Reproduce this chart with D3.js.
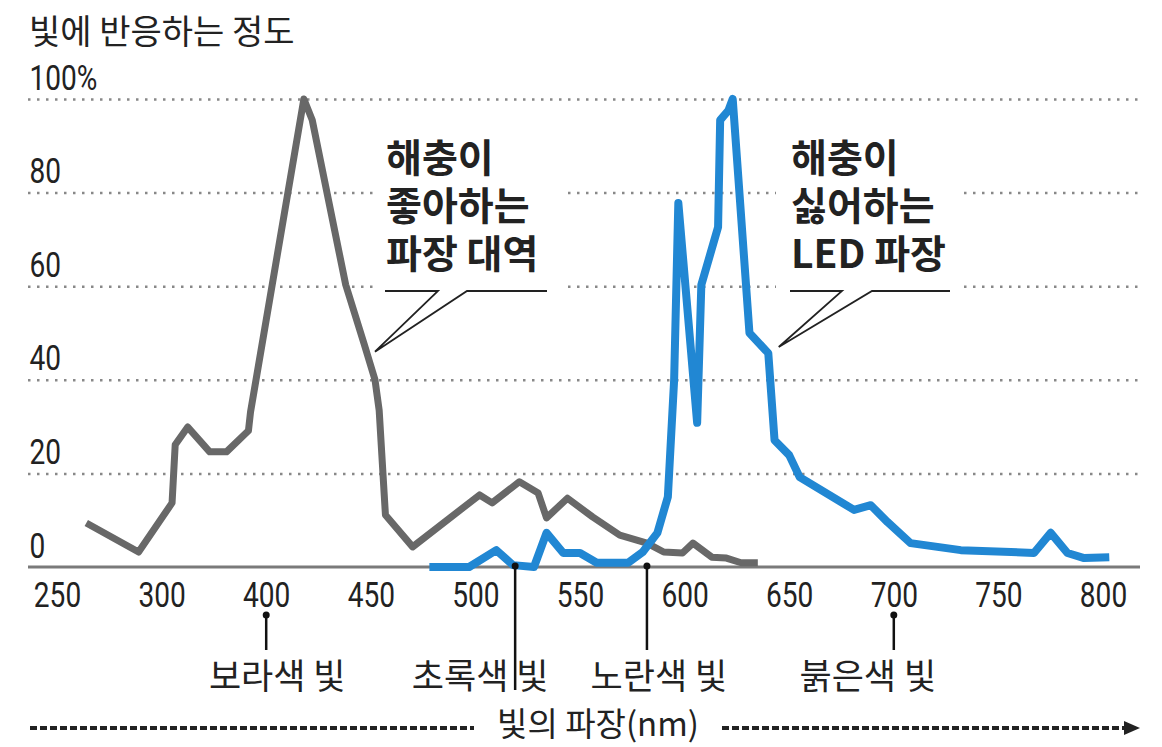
<!DOCTYPE html>
<html>
<head>
<meta charset="utf-8">
<script src="https://cdn.jsdelivr.net/npm/d3@7"></script>
<style>
  body { margin: 0; background: #fff; }
  .num { font-family: Roboto, "Liberation Sans", sans-serif; fill: #222; }
  .kr { font-family: "Noto Sans CJK KR", sans-serif; fill: #222; }
</style>
</head>
<body>
<svg id="chart"></svg>
<script>
// tick labels as printed on the chart (note the jump 300 -> 400)
const xTicks = [250, 300, 400, 450, 500, 550, 600, 650, 700, 750, 800];
const yTicks = [0, 20, 40, 60, 80, 100];

// response curve of insects (gray)
const attractNm  = [264, 289, 310, 313, 325, 346, 362, 383, 385, 418, 422, 438, 447, 452, 454, 457, 470, 502, 508, 521, 530, 534, 544, 556, 569, 582, 590, 599, 604, 613, 620, 627, 635];
const attractVal = [9.4, 3.2, 13.7, 26.1, 29.9, 24.6, 24.6, 29.1, 33.1, 100, 95.5, 60.3, 47.4, 40, 33.5, 11.1, 4.3, 15.4, 13.7, 18.2, 15.8, 10.5, 14.7, 10.7, 6.8, 5.1, 3.2, 3.0, 5.1, 2.1, 1.9, 0.9, 0.9];

// LED spectrum insects dislike (blue)
const ledNm  = [478, 497, 510, 518, 528, 534, 542, 550, 558, 573, 580, 587, 592, 595, 597, 606, 608, 616, 617, 621, 623, 631, 640, 643, 650, 655, 681, 689, 697, 708, 732, 767, 775, 783, 791, 803];
const ledVal = [0, 0, 3.6, 0.4, 0, 7.3, 3.0, 3.0, 0.9, 0.9, 3.2, 7.3, 15, 40, 77.8, 30.8, 60.3, 72.6, 95.5, 97.6, 100, 50, 45.7, 27.1, 23.9, 19.2, 12.2, 13.2, 9.6, 5.1, 3.6, 3.0, 7.3, 3.0, 1.9, 2.1];

// colour bands marked under the axis
const lightNames = ['보라색 빛', '초록색 빛', '노란색 빛', '붉은색 빛'];
const lightNm = [400, 519, 582, 700];

const titleText = '빛에 반응하는 정도';
const xTitle = '빛의 파장(nm)';
const noteLeft = ['해충이', '좋아하는', '파장 대역'];
const noteRight = ['해충이', '싫어하는', 'LED 파장'];

const W = 1162, H = 747;
const left = 28, right = 1140;
const step = 104.6, x0 = 57;
const narrow = 'scale(0.78,1)';

const svg = d3.select('#chart').attr('width', W).attr('height', H);

const x = d3.scaleLinear()
    .domain([250, 300, 400, 800])
    .range([x0, x0 + step, x0 + 2 * step, x0 + 10 * step]);
const y = d3.scaleLinear().domain([0, 100]).range([567, 99]);

// title
svg.append('text').attr('class', 'kr')
    .attr('x', 29).attr('y', 44)
    .style('font-size', '34px')
    .text(titleText);

// gridlines + y labels
const yAxisG = svg.append('g')
    .attr('transform', `translate(${left},0)`)
    .call(d3.axisRight(y).tickValues(yTicks).tickSize(right - left)
        .tickFormat(d => d === 100 ? '100%' : d));
yAxisG.select('.domain').remove();
yAxisG.selectAll('.tick line')
    .attr('stroke', '#888')
    .attr('stroke-width', 2.5)
    .attr('stroke-dasharray', '2.5,6.5')
    .attr('opacity', d => d === 0 ? 0 : 1);
yAxisG.selectAll('.tick text')
    .attr('class', 'num')
    .attr('x', 2).attr('dy', -10)
    .attr('text-anchor', 'start')
    .attr('transform', narrow)
    .style('font-size', '36px');

// white boxes behind annotations break the gridlines
svg.append('rect').attr('x', 378).attr('y', 124).attr('width', 186).attr('height', 172).attr('fill', '#fff');
svg.append('rect').attr('x', 776).attr('y', 124).attr('width', 188).attr('height', 172).attr('fill', '#fff');

// baseline
svg.append('line')
    .attr('x1', left).attr('x2', right)
    .attr('y1', y(0)).attr('y2', y(0))
    .attr('stroke', '#7a7a7a').attr('stroke-width', 3);

// x axis labels
const xAxisG = svg.append('g')
    .attr('transform', `translate(0,${y(0)})`)
    .call(d3.axisBottom(x).tickValues(xTicks).tickSize(0).tickPadding(14));
xAxisG.select('.domain').remove();
xAxisG.selectAll('.tick text')
    .attr('class', 'num')
    .attr('dy', '0.71em')
    .attr('transform', narrow)
    .style('font-size', '36px');

// curves
const line = d3.line().x(d => x(d[0])).y(d => y(d[1]));

svg.append('path')
    .datum(attractNm.map((d, i) => [d, attractVal[i]]))
    .attr('d', line)
    .attr('fill', 'none')
    .attr('stroke', '#686868')
    .attr('stroke-width', 7)
    .attr('stroke-linejoin', 'round');

svg.append('path')
    .datum(ledNm.map((d, i) => [d, ledVal[i]]))
    .attr('d', line)
    .attr('fill', 'none')
    .attr('stroke', '#2187d3')
    .attr('stroke-width', 8)
    .attr('stroke-linejoin', 'round');

// annotations (one text block each, lines as tspans)
function note(lines, tx, tip, bar) {
    const g = svg.append('g');
    g.append('text')
        .attr('class', 'kr')
        .attr('y', 172)
        .style('font-size', '39px')
        .style('font-weight', 'bold')
        .selectAll('tspan').data(lines).join('tspan')
        .attr('x', tx)
        .attr('dy', (d, i) => i === 0 ? 0 : 48)
        .text(d => d);
    const pts = [[bar[0], 291], [bar[1], 291], tip, [bar[2], 291], [bar[3], 291]];
    g.append('path')
        .attr('d', d3.line()(pts))
        .attr('fill', 'none')
        .attr('stroke', '#222')
        .attr('stroke-width', 1.8);
}
note(noteLeft, 386, [x(452), y(46)], [385, 438, 467, 547]);
note(noteRight, 791, [x(645), y(47)], [790, 842, 872, 950]);

// colour band markers
const markerLayout = [
    {top: 615, bottom: 650, dx: 11},
    {top: 566, bottom: 690, dx: -35},
    {top: 566, bottom: 650, dx: 12},
    {top: 615, bottom: 650, dx: -26}
];
const markers = svg.selectAll('.marker').data(lightNames).join('g').attr('class', 'marker');
markers.append('line')
    .attr('x1', (d, i) => x(lightNm[i])).attr('x2', (d, i) => x(lightNm[i]))
    .attr('y1', (d, i) => markerLayout[i].top).attr('y2', (d, i) => markerLayout[i].bottom)
    .attr('stroke', '#111').attr('stroke-width', 2.5);
markers.append('circle')
    .attr('cx', (d, i) => x(lightNm[i])).attr('cy', (d, i) => markerLayout[i].top)
    .attr('r', 3.5).attr('fill', '#111');
markers.append('text')
    .attr('class', 'kr')
    .attr('x', (d, i) => x(lightNm[i]) + markerLayout[i].dx)
    .attr('y', 689)
    .attr('text-anchor', 'middle')
    .style('font-size', '35px')
    .text(d => d);

// x title with dotted arrows
svg.append('text').attr('class', 'kr')
    .attr('x', 598).attr('y', 736)
    .attr('text-anchor', 'middle')
    .style('font-size', '33px')
    .text(xTitle);
svg.append('line')
    .attr('x1', 30).attr('x2', 474).attr('y1', 728).attr('y2', 728)
    .attr('stroke', '#222').attr('stroke-width', 4).attr('stroke-dasharray', '7,3');
svg.append('line')
    .attr('x1', 722).attr('x2', 1126).attr('y1', 728).attr('y2', 728)
    .attr('stroke', '#222').attr('stroke-width', 4).attr('stroke-dasharray', '7,3');
svg.append('path')
    .attr('d', 'M1124,721L1140,728L1124,735Z')
    .attr('fill', '#222');
</script>
</body>
</html>
